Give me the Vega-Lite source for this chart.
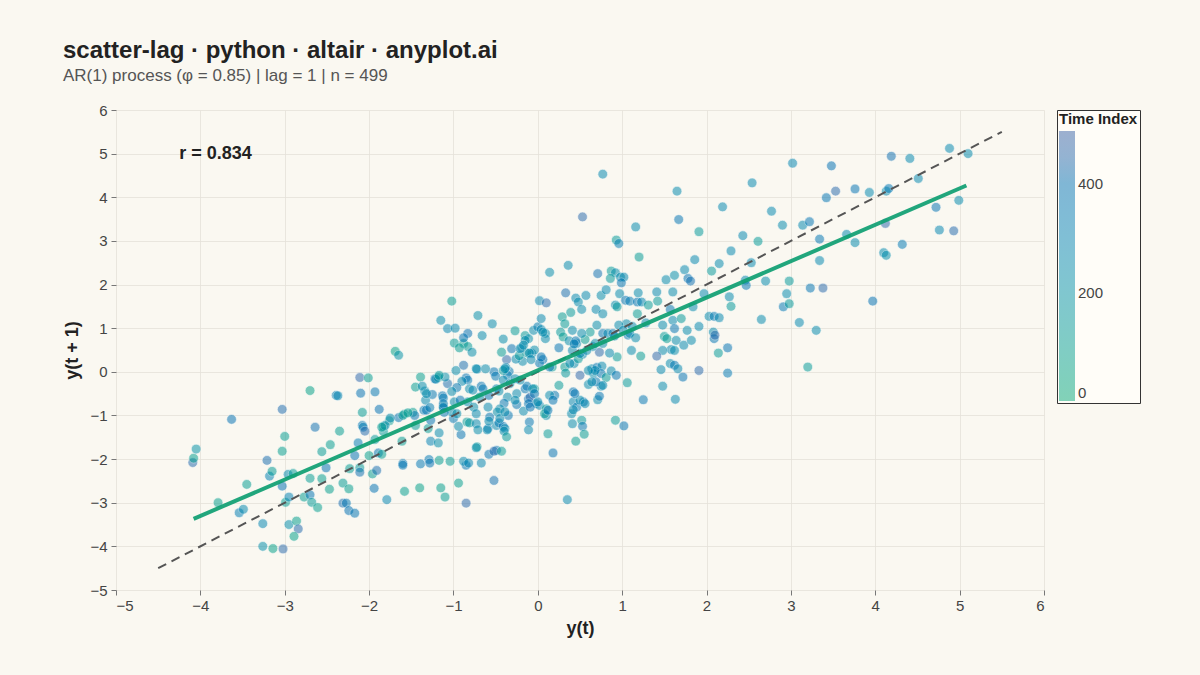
{
  "$schema": "https://vega.github.io/schema/vega-lite/v6.json",
  "width": 928,
  "height": 480,
  "autosize": {"type": "none"},
  "padding": {"left": 116, "top": 110, "right": 156, "bottom": 85},
  "background": "#FAF8F1",
  "title": {
    "text": "scatter-lag · python · altair · anyplot.ai",
    "subtitle": "AR(1) process (φ = 0.85) | lag = 1 | n = 499",
    "anchor": "start",
    "frame": "group",
    "dx": -53,
    "offset": 19,
    "font": "Liberation Sans",
    "fontSize": 24,
    "fontWeight": "bold",
    "color": "#222222",
    "subtitleFont": "Liberation Sans",
    "subtitleFontSize": 17,
    "subtitleColor": "#555555",
    "subtitlePadding": 5
  },
  "config": {
    "font": "Liberation Sans",
    "view": {"stroke": null},
    "axis": {
      "grid": true,
      "gridColor": "#E4E1D9",
      "gridWidth": 0.8,
      "domain": false,
      "tickColor": "#777777",
      "tickSize": 5,
      "labelFontSize": 15,
      "labelColor": "#444444",
      "titleFontSize": 18,
      "titleFontWeight": "bold",
      "titleColor": "#222222"
    },
    "legend": {
      "titleFontSize": 15,
      "titleFontWeight": "bold",
      "titleColor": "#222222",
      "labelFontSize": 15,
      "labelColor": "#444444"
    }
  },
  "datasets": {
    "points": [
      {"x":-4.09,"y":-2.08,"t":440},{"x":-4.08,"y":-1.98,"t":90},{"x":-4.05,"y":-1.77,"t":200},{"x":-3.63,"y":-1.09,"t":400},
      {"x":-3.79,"y":-3.0,"t":80},{"x":-3.45,"y":-2.58,"t":100},{"x":-3.54,"y":-3.23,"t":330},{"x":-3.49,"y":-3.15,"t":260},
      {"x":-3.26,"y":-4.0,"t":220},{"x":-3.14,"y":-4.05,"t":70},{"x":-3.02,"y":-4.06,"t":450},{"x":-3.26,"y":-3.48,"t":280},
      {"x":-3.21,"y":-2.03,"t":420},{"x":-3.18,"y":-2.39,"t":300},{"x":-3.15,"y":-2.28,"t":120},{"x":-3.03,"y":-0.86,"t":430},
      {"x":-3.0,"y":-1.48,"t":100},{"x":-3.03,"y":-1.82,"t":90},{"x":-3.03,"y":-2.62,"t":400},{"x":-2.99,"y":-2.99,"t":110},
      {"x":-2.96,"y":-2.35,"t":250},{"x":-2.9,"y":-2.33,"t":130},{"x":-2.95,"y":-2.87,"t":300},{"x":-2.95,"y":-3.5,"t":230},
      {"x":-2.86,"y":-3.42,"t":80},{"x":-2.84,"y":-3.6,"t":440},{"x":-2.89,"y":-3.77,"t":70},{"x":-2.77,"y":-2.87,"t":100},
      {"x":-2.7,"y":-2.82,"t":380},{"x":-2.68,"y":-2.99,"t":130},{"x":-2.61,"y":-3.11,"t":90},{"x":-2.7,"y":-0.43,"t":60},
      {"x":-2.64,"y":-1.27,"t":410},{"x":-2.7,"y":-2.44,"t":110},{"x":-2.56,"y":-2.45,"t":90},{"x":-2.56,"y":-1.83,"t":120},
      {"x":-2.46,"y":-1.67,"t":100},{"x":-2.51,"y":-2.2,"t":400},{"x":-2.47,"y":-2.69,"t":80},{"x":-2.39,"y":-0.54,"t":330},
      {"x":-2.37,"y":-0.55,"t":290},{"x":-2.35,"y":-1.36,"t":100},{"x":-2.31,"y":-2.55,"t":120},{"x":-2.24,"y":-2.68,"t":90},
      {"x":-2.31,"y":-3.01,"t":420},{"x":-2.27,"y":-3.01,"t":360},{"x":-2.24,"y":-3.18,"t":400},{"x":-2.17,"y":-3.24,"t":380},
      {"x":-2.23,"y":-2.22,"t":110},{"x":-2.17,"y":-1.92,"t":390},{"x":-2.13,"y":-1.63,"t":340},{"x":-2.11,"y":-0.13,"t":460},
      {"x":-2.01,"y":-0.14,"t":100},{"x":-2.1,"y":-0.49,"t":400},{"x":-2.08,"y":-0.93,"t":120},{"x":-2.08,"y":-1.23,"t":360},
      {"x":-2.07,"y":-1.27,"t":330},{"x":-2.05,"y":-1.36,"t":440},{"x":-2.11,"y":-2.2,"t":130},{"x":-2.11,"y":-2.3,"t":410},
      {"x":-2.0,"y":-1.92,"t":80},{"x":-1.96,"y":-2.34,"t":110},{"x":-1.91,"y":-2.26,"t":420},{"x":-1.94,"y":-2.67,"t":390},
      {"x":-1.93,"y":-0.46,"t":370},{"x":-1.93,"y":-1.55,"t":140},{"x":-1.88,"y":-0.86,"t":400},{"x":-1.89,"y":-1.86,"t":380},
      {"x":-1.85,"y":-1.89,"t":100},{"x":-1.83,"y":-1.25,"t":90},{"x":-1.83,"y":-1.37,"t":130},{"x":-1.79,"y":-2.93,"t":280},
      {"x":-1.76,"y":-1.12,"t":100},{"x":-1.69,"y":0.47,"t":60},{"x":-1.65,"y":0.38,"t":200},{"x":-1.65,"y":-1.05,"t":390},
      {"x":-1.61,"y":-1.59,"t":110},{"x":-1.6,"y":-2.1,"t":350},{"x":-1.6,"y":-2.14,"t":380},{"x":-1.58,"y":-2.74,"t":90},
      {"x":-1.58,"y":-0.97,"t":120},{"x":-1.48,"y":-0.93,"t":100},{"x":-1.46,"y":-1.0,"t":380},{"x":-1.45,"y":-1.23,"t":130},
      {"x":-1.4,"y":-2.66,"t":70},{"x":-1.39,"y":-2.11,"t":360},{"x":-1.39,"y":-0.12,"t":90},{"x":-1.45,"y":-0.35,"t":110},
      {"x":-1.34,"y":-0.44,"t":240},{"x":-1.33,"y":-0.65,"t":260},{"x":-1.35,"y":-0.88,"t":350},{"x":-1.32,"y":-0.88,"t":380},
      {"x":-1.28,"y":-0.82,"t":330},{"x":-1.3,"y":-1.3,"t":120},{"x":-1.27,"y":-1.11,"t":390},{"x":-1.29,"y":-2.01,"t":350},
      {"x":-1.28,"y":-2.09,"t":400},{"x":-1.27,"y":-1.59,"t":300},{"x":-1.25,"y":-0.52,"t":370},{"x":-1.22,"y":-0.16,"t":410},
      {"x":-1.18,"y":-0.13,"t":140},{"x":-1.17,"y":-1.4,"t":250},{"x":-1.18,"y":-1.63,"t":230},{"x":-1.17,"y":-2.03,"t":100},
      {"x":-1.15,"y":-2.66,"t":80},{"x":-1.1,"y":-2.87,"t":110},{"x":-1.13,"y":-0.55,"t":380},{"x":-1.12,"y":-0.6,"t":340},
      {"x":-1.12,"y":-0.8,"t":130},{"x":-1.07,"y":-0.27,"t":420},{"x":-1.04,"y":-2.05,"t":120},{"x":-1.0,"y":-1.07,"t":360},
      {"x":-0.99,"y":-0.69,"t":250},{"x":-0.97,"y":0.03,"t":240},{"x":-0.94,"y":-2.55,"t":90},{"x":-0.91,"y":-1.44,"t":390},
      {"x":-0.85,"y":-2.14,"t":380},{"x":-0.85,"y":-3.01,"t":450},{"x":-0.88,"y":0.65,"t":100},{"x":-0.83,"y":0.58,"t":130},
      {"x":-0.78,"y":0.45,"t":230},{"x":-0.72,"y":0.06,"t":260},{"x":-0.72,"y":-1.72,"t":120},{"x":-0.67,"y":-2.09,"t":280},
      {"x":-0.52,"y":-2.49,"t":410},{"x":-0.59,"y":-1.3,"t":370},{"x":-0.49,"y":-1.8,"t":380},{"x":-0.66,"y":0.83,"t":250},
      {"x":-1.02,"y":1.62,"t":110},{"x":-1.15,"y":1.18,"t":240},{"x":-0.71,"y":1.29,"t":220},{"x":-1.07,"y":0.99,"t":280},
      {"x":-0.98,"y":1.0,"t":260},{"x":-0.54,"y":1.1,"t":250},{"x":-0.83,"y":0.88,"t":400},{"x":-0.88,"y":0.78,"t":380},
      {"x":-0.99,"y":0.66,"t":130},{"x":-0.93,"y":0.55,"t":110},{"x":-0.41,"y":0.75,"t":240},{"x":-0.27,"y":0.94,"t":130},
      {"x":-0.15,"y":0.83,"t":140},{"x":-0.11,"y":0.76,"t":230},{"x":0.02,"y":1.63,"t":260},{"x":0.1,"y":1.58,"t":440},
      {"x":-0.05,"y":0.95,"t":250},{"x":0.0,"y":1.03,"t":330},{"x":0.04,"y":0.97,"t":270},{"x":0.09,"y":0.88,"t":230},
      {"x":0.09,"y":0.76,"t":250},{"x":0.04,"y":1.22,"t":260},{"x":0.33,"y":1.81,"t":420},{"x":0.45,"y":1.69,"t":260},
      {"x":0.39,"y":1.36,"t":140},{"x":0.29,"y":1.26,"t":120},{"x":0.32,"y":1.1,"t":130},{"x":0.41,"y":0.95,"t":250},
      {"x":0.27,"y":0.91,"t":140},{"x":0.3,"y":0.8,"t":110},{"x":0.37,"y":0.71,"t":240},{"x":0.25,"y":0.55,"t":380},
      {"x":0.46,"y":0.65,"t":260},{"x":0.41,"y":0.49,"t":270},{"x":0.32,"y":0.11,"t":120},{"x":0.33,"y":-0.03,"t":150},
      {"x":0.43,"y":0.19,"t":250},{"x":0.25,"y":-0.31,"t":130},{"x":0.2,"y":-0.54,"t":370},{"x":0.42,"y":-0.46,"t":390},
      {"x":0.42,"y":-0.69,"t":280},{"x":0.46,"y":-0.81,"t":340},{"x":0.17,"y":0.11,"t":100},{"x":-0.07,"y":0.42,"t":260},
      {"x":-0.04,"y":0.5,"t":240},{"x":-0.13,"y":0.43,"t":150},{"x":0.06,"y":0.28,"t":380},{"x":0.02,"y":0.2,"t":360},
      {"x":-0.18,"y":0.24,"t":250},{"x":-0.26,"y":0.29,"t":270},{"x":-0.22,"y":0.37,"t":140},{"x":-0.31,"y":0.53,"t":400},
      {"x":-0.19,"y":0.55,"t":230},{"x":-0.37,"y":0.28,"t":460},{"x":-0.43,"y":0.45,"t":120},{"x":-0.34,"y":0.01,"t":350},
      {"x":-0.38,"y":0.1,"t":260},{"x":-0.36,"y":-0.08,"t":330},{"x":-0.41,"y":0.03,"t":140},{"x":-0.52,"y":0.0,"t":380},
      {"x":-0.5,"y":-0.1,"t":360},{"x":-0.62,"y":0.07,"t":250},{"x":-0.73,"y":0.07,"t":240},{"x":-0.88,"y":0.15,"t":420},
      {"x":-0.85,"y":-0.14,"t":390},{"x":-0.83,"y":-0.19,"t":350},{"x":-0.9,"y":-0.22,"t":260},{"x":-0.96,"y":-0.36,"t":370},
      {"x":-1.02,"y":-0.45,"t":250},{"x":-1.1,"y":-0.12,"t":230},{"x":-1.21,"y":-0.17,"t":260},{"x":-1.17,"y":-0.08,"t":140},
      {"x":-1.37,"y":-0.33,"t":240},{"x":-1.32,"y":-0.5,"t":250},{"x":-1.12,"y":-0.73,"t":350},{"x":-0.81,"y":-0.39,"t":250},
      {"x":-0.77,"y":-0.42,"t":270},{"x":-0.67,"y":-0.33,"t":380},{"x":-0.65,"y":-0.39,"t":350},{"x":-0.69,"y":-0.58,"t":250},
      {"x":-0.58,"y":-0.54,"t":390},{"x":-0.49,"y":-0.39,"t":260},{"x":-0.46,"y":-0.44,"t":240},{"x":-0.36,"y":-0.58,"t":250},
      {"x":-0.4,"y":-0.72,"t":370},{"x":-0.25,"y":-0.5,"t":260},{"x":-0.15,"y":-0.39,"t":380},{"x":-0.13,"y":-0.33,"t":350},
      {"x":-0.11,"y":-0.62,"t":400},{"x":-0.09,"y":-0.58,"t":450},{"x":-0.04,"y":-0.39,"t":130},{"x":-0.02,"y":-0.73,"t":250},
      {"x":0.02,"y":-0.77,"t":270},{"x":0.1,"y":-0.85,"t":120},{"x":0.1,"y":-1.0,"t":240},{"x":-0.17,"y":-0.9,"t":260},
      {"x":-0.25,"y":-0.75,"t":380},{"x":-0.45,"y":-0.85,"t":250},{"x":-0.48,"y":-0.92,"t":230},{"x":-0.59,"y":-0.81,"t":260},
      {"x":-0.35,"y":-1.0,"t":370},{"x":-0.83,"y":-0.69,"t":250},{"x":-0.76,"y":-0.81,"t":240},{"x":-0.92,"y":-0.65,"t":390},
      {"x":-0.73,"y":-0.96,"t":260},{"x":-0.57,"y":-1.04,"t":380},{"x":-1.02,"y":-0.92,"t":250},{"x":-0.96,"y":-0.96,"t":230},
      {"x":-1.12,"y":-0.82,"t":380},{"x":-1.11,"y":-0.93,"t":360},{"x":-1.6,"y":-1.0,"t":120},{"x":-1.54,"y":-0.94,"t":100},
      {"x":-1.75,"y":-1.06,"t":250},{"x":-1.81,"y":-1.23,"t":250},{"x":-1.85,"y":-1.27,"t":110},{"x":-0.88,"y":-2.05,"t":260},
      {"x":-0.82,"y":-2.09,"t":280},{"x":-0.73,"y":-1.74,"t":240},{"x":-0.58,"y":-1.89,"t":380},{"x":-0.52,"y":-1.82,"t":440},
      {"x":-0.43,"y":-1.82,"t":130},{"x":-0.94,"y":-1.25,"t":250},{"x":-0.84,"y":-1.15,"t":130},{"x":-0.81,"y":-1.17,"t":150},
      {"x":-0.73,"y":-1.19,"t":260},{"x":-0.71,"y":-1.33,"t":240},{"x":-0.6,"y":-1.33,"t":250},{"x":-0.49,"y":-1.23,"t":270},
      {"x":-0.46,"y":-1.17,"t":350},{"x":-0.41,"y":-1.25,"t":380},{"x":-0.39,"y":-1.3,"t":260},{"x":-0.4,"y":-1.36,"t":240},
      {"x":-0.37,"y":-1.49,"t":140},{"x":-0.58,"y":-1.13,"t":250},{"x":-0.45,"y":-1.07,"t":260},{"x":-0.39,"y":-0.92,"t":250},
      {"x":-0.11,"y":-0.73,"t":380},{"x":-0.09,"y":-0.81,"t":400},{"x":-0.1,"y":-1.15,"t":370},{"x":-0.11,"y":-1.33,"t":260},
      {"x":0.08,"y":-0.96,"t":120},{"x":0.12,"y":-1.42,"t":130},{"x":0.18,"y":-1.86,"t":390},{"x":0.35,"y":-2.93,"t":270},
      {"x":0.12,"y":-0.88,"t":370},{"x":0.4,"y":-0.96,"t":250},{"x":0.42,"y":-0.87,"t":260},{"x":0.52,"y":-1.11,"t":140},
      {"x":0.53,"y":-1.25,"t":370},{"x":0.55,"y":-1.43,"t":120},{"x":0.45,"y":-1.59,"t":110},{"x":0.41,"y":-1.19,"t":250},
      {"x":0.54,"y":-0.69,"t":380},{"x":1.2,"y":2.63,"t":120},{"x":0.36,"y":2.44,"t":250},{"x":1.86,"y":2.57,"t":270},
      {"x":2.29,"y":2.77,"t":260},{"x":2.15,"y":2.48,"t":250},{"x":2.06,"y":2.31,"t":140},{"x":2.53,"y":2.5,"t":260},
      {"x":0.71,"y":2.25,"t":410},{"x":0.87,"y":2.31,"t":130},{"x":0.92,"y":2.27,"t":240},{"x":0.98,"y":2.17,"t":250},
      {"x":1.02,"y":2.17,"t":270},{"x":0.86,"y":2.14,"t":140},{"x":0.99,"y":2.04,"t":380},{"x":1.52,"y":2.11,"t":250},
      {"x":1.62,"y":2.21,"t":230},{"x":1.74,"y":2.34,"t":260},{"x":1.78,"y":2.14,"t":390},{"x":1.81,"y":2.08,"t":410},
      {"x":0.48,"y":1.6,"t":250},{"x":0.57,"y":1.75,"t":260},{"x":0.75,"y":1.75,"t":240},{"x":0.81,"y":1.88,"t":270},
      {"x":0.52,"y":1.43,"t":250},{"x":0.69,"y":1.43,"t":260},{"x":0.92,"y":1.53,"t":250},{"x":0.94,"y":1.49,"t":140},
      {"x":0.97,"y":1.79,"t":250},{"x":1.04,"y":1.64,"t":370},{"x":1.09,"y":1.62,"t":340},{"x":1.18,"y":1.6,"t":380},
      {"x":1.23,"y":1.6,"t":280},{"x":1.19,"y":1.81,"t":250},{"x":1.31,"y":1.53,"t":130},{"x":1.41,"y":1.83,"t":260},
      {"x":1.42,"y":1.62,"t":140},{"x":1.6,"y":1.83,"t":250},{"x":1.18,"y":1.33,"t":120},{"x":1.05,"y":1.1,"t":250},
      {"x":1.12,"y":1.04,"t":270},{"x":0.77,"y":1.33,"t":250},{"x":0.7,"y":1.07,"t":240},{"x":0.62,"y":0.91,"t":130},
      {"x":0.56,"y":0.74,"t":110},{"x":0.45,"y":0.71,"t":370},{"x":0.43,"y":0.64,"t":340},{"x":0.77,"y":0.88,"t":380},
      {"x":0.83,"y":0.88,"t":260},{"x":0.89,"y":0.88,"t":360},{"x":0.91,"y":0.82,"t":250},{"x":0.96,"y":1.07,"t":250},
      {"x":1.01,"y":0.95,"t":270},{"x":1.07,"y":0.84,"t":350},{"x":1.09,"y":0.88,"t":260},{"x":1.16,"y":0.78,"t":250},
      {"x":1.28,"y":1.12,"t":260},{"x":1.48,"y":1.07,"t":250},{"x":1.6,"y":1.18,"t":270},{"x":1.62,"y":0.99,"t":380},
      {"x":1.57,"y":1.43,"t":370},{"x":1.7,"y":1.22,"t":140},{"x":1.77,"y":0.95,"t":250},{"x":1.91,"y":1.04,"t":260},
      {"x":2.03,"y":1.27,"t":250},{"x":2.09,"y":1.27,"t":360},{"x":2.15,"y":1.24,"t":270},{"x":2.08,"y":0.91,"t":250},
      {"x":2.09,"y":0.76,"t":380},{"x":2.1,"y":0.84,"t":450},{"x":2.25,"y":0.55,"t":390},{"x":2.14,"y":0.43,"t":130},
      {"x":2.27,"y":1.72,"t":250},{"x":2.29,"y":1.5,"t":140},{"x":1.97,"y":1.79,"t":260},{"x":1.84,"y":1.49,"t":250},
      {"x":1.5,"y":0.81,"t":130},{"x":1.53,"y":0.76,"t":110},{"x":1.64,"y":0.72,"t":250},{"x":1.58,"y":0.51,"t":260},
      {"x":1.62,"y":0.49,"t":240},{"x":1.48,"y":0.49,"t":250},{"x":1.73,"y":0.61,"t":270},{"x":1.82,"y":0.72,"t":250},
      {"x":1.22,"y":0.36,"t":120},{"x":1.41,"y":0.36,"t":460},{"x":1.11,"y":0.49,"t":250},{"x":0.94,"y":0.34,"t":130},
      {"x":0.85,"y":0.43,"t":260},{"x":0.73,"y":0.45,"t":450},{"x":0.65,"y":0.58,"t":250},{"x":0.77,"y":0.65,"t":240},
      {"x":0.53,"y":0.4,"t":260},{"x":0.38,"y":0.19,"t":250},{"x":0.48,"y":0.3,"t":130},{"x":0.64,"y":0.07,"t":250},
      {"x":0.7,"y":0.1,"t":370},{"x":0.76,"y":0.13,"t":260},{"x":0.66,"y":-0.04,"t":250},{"x":0.75,"y":-0.04,"t":380},
      {"x":0.5,"y":-0.08,"t":460},{"x":0.6,"y":-0.29,"t":250},{"x":0.75,"y":-0.33,"t":260},{"x":0.81,"y":-0.13,"t":130},
      {"x":0.87,"y":0.02,"t":250},{"x":0.93,"y":-0.08,"t":380},{"x":1.06,"y":-0.25,"t":140},{"x":1.46,"y":0.05,"t":260},
      {"x":1.57,"y":0.19,"t":250},{"x":1.62,"y":0.15,"t":380},{"x":1.66,"y":0.07,"t":270},{"x":1.48,"y":-0.33,"t":250},
      {"x":1.72,"y":-0.12,"t":390},{"x":1.91,"y":0.03,"t":450},{"x":3.02,"y":4.78,"t":280},{"x":3.48,"y":4.72,"t":400},
      {"x":2.54,"y":4.33,"t":270},{"x":4.19,"y":4.94,"t":410},{"x":4.41,"y":4.89,"t":260},{"x":4.88,"y":5.12,"t":270},
      {"x":5.1,"y":5.0,"t":250},{"x":3.53,"y":4.14,"t":450},{"x":3.42,"y":3.99,"t":380},{"x":3.76,"y":4.19,"t":390},
      {"x":3.93,"y":4.11,"t":260},{"x":4.13,"y":4.14,"t":250},{"x":4.16,"y":4.2,"t":360},{"x":4.51,"y":4.43,"t":260},
      {"x":4.72,"y":3.77,"t":390},{"x":4.99,"y":3.93,"t":250},{"x":4.76,"y":3.25,"t":280},{"x":4.93,"y":3.23,"t":440},
      {"x":4.12,"y":3.4,"t":460},{"x":4.32,"y":2.92,"t":350},{"x":4.1,"y":2.73,"t":250},{"x":4.13,"y":2.67,"t":230},
      {"x":2.77,"y":3.68,"t":260},{"x":2.9,"y":3.36,"t":250},{"x":3.14,"y":3.36,"t":260},{"x":3.22,"y":3.44,"t":380},
      {"x":2.43,"y":3.12,"t":270},{"x":2.61,"y":2.99,"t":130},{"x":3.34,"y":3.04,"t":370},{"x":3.66,"y":3.15,"t":260},
      {"x":3.76,"y":2.96,"t":250},{"x":3.34,"y":2.55,"t":260},{"x":2.46,"y":2.1,"t":270},{"x":2.47,"y":1.98,"t":370},
      {"x":2.7,"y":2.08,"t":250},{"x":2.98,"y":2.08,"t":140},{"x":2.95,"y":1.79,"t":250},{"x":3.23,"y":1.92,"t":380},
      {"x":3.38,"y":1.92,"t":450},{"x":2.91,"y":1.49,"t":360},{"x":2.98,"y":1.56,"t":140},{"x":2.65,"y":1.2,"t":250},
      {"x":3.1,"y":1.13,"t":260},{"x":3.3,"y":0.95,"t":250},{"x":3.2,"y":0.11,"t":130},{"x":3.97,"y":1.62,"t":400},
      {"x":0.77,"y":4.53,"t":260},{"x":1.65,"y":4.14,"t":250},{"x":0.53,"y":3.55,"t":450},{"x":1.67,"y":3.49,"t":380},
      {"x":2.19,"y":3.78,"t":260},{"x":1.16,"y":3.32,"t":250},{"x":1.91,"y":3.21,"t":140},{"x":0.93,"y":3.02,"t":130},
      {"x":0.96,"y":2.94,"t":330},{"x":2.25,"y":-0.03,"t":350},{"x":1.25,"y":-0.64,"t":370},{"x":1.63,"y":-0.63,"t":260},
      {"x":0.71,"y":-0.64,"t":250},{"x":0.73,"y":-0.56,"t":380},{"x":0.69,"y":-0.23,"t":360},{"x":0.77,"y":-0.31,"t":260},
      {"x":0.92,"y":-1.11,"t":130},{"x":1.02,"y":-1.24,"t":380},{"x":-0.15,"y":0.72,"t":240},{"x":0.06,"y":0.91,"t":250},
      {"x":0.52,"y":0.88,"t":250},{"x":0.5,"y":0.42,"t":260},{"x":0.58,"y":0.49,"t":250},{"x":0.68,"y":0.65,"t":250},
      {"x":-0.21,"y":0.53,"t":260},{"x":-0.17,"y":0.61,"t":250},{"x":-0.1,"y":0.43,"t":250},{"x":-0.08,"y":0.28,"t":270},
      {"x":0.04,"y":0.34,"t":380},{"x":0.14,"y":0.11,"t":370},{"x":0.68,"y":0.03,"t":260},{"x":0.6,"y":0.03,"t":250},
      {"x":0.64,"y":-0.23,"t":250},{"x":0.5,"y":-0.65,"t":250},{"x":0.56,"y":-0.73,"t":260},{"x":0.44,"y":-0.5,"t":380},
      {"x":-0.39,"y":0.07,"t":250},{"x":-0.41,"y":-0.19,"t":260},{"x":-0.33,"y":-0.27,"t":250},{"x":-0.27,"y":-0.16,"t":260},
      {"x":-0.21,"y":-0.19,"t":250},{"x":-0.06,"y":-0.39,"t":250},{"x":-0.04,"y":-0.5,"t":370},{"x":-0.27,"y":-0.65,"t":250},
      {"x":0.0,"y":-0.69,"t":260},{"x":0.14,"y":-0.54,"t":250},{"x":0.18,"y":-0.65,"t":380},{"x":0.14,"y":2.28,"t":240}
    ],
    "identity": [{"x": -4.5, "y": -4.5}, {"x": 5.5, "y": 5.5}],
    "fit": [{"x": -4.08, "y": -3.37}, {"x": 5.08, "y": 4.27}],
    "note": [{"x": -4.25, "y": 5.0, "label": "r = 0.834"}]
  },
  "encoding": {
    "x": {
      "field": "x",
      "type": "quantitative",
      "title": "y(t)",
      "scale": {"domain": [-5, 6], "nice": false, "zero": false},
      "axis": {"values": [-5, -4, -3, -2, -1, 0, 1, 2, 3, 4, 5, 6], "labelPadding": 3, "titlePadding": 6}
    },
    "y": {
      "field": "y",
      "type": "quantitative",
      "title": "y(t + 1)",
      "scale": {"domain": [-5, 6], "nice": false, "zero": false},
      "axis": {"values": [-5, -4, -3, -2, -1, 0, 1, 2, 3, 4, 5, 6], "labelPadding": 4, "titlePadding": 8}
    }
  },
  "layer": [
    {
      "data": {"name": "points"},
      "mark": {"type": "circle", "size": 95, "opacity": 0.52, "stroke": "#FFFFFF", "strokeWidth": 0.6},
      "encoding": {
        "color": {
          "field": "t",
          "type": "quantitative",
          "title": "Time Index",
          "scale": {"domain": [0, 400, 498], "range": ["#05A677", "#0070B2", "#3A62A6"]},
          "legend": {
            "orient": "none",
            "legendX": 941,
            "legendY": 0,
            "direction": "vertical",
            "values": [0, 200, 400],
            "gradientLength": 270,
            "gradientThickness": 16,
            "gradientOpacity": 0.5,
            "gradientStrokeWidth": 0,
            "strokeColor": "#333333",
            "fillColor": "#FFFDF8",
            "padding": 2,
            "titlePadding": 4,
            "labelOffset": 3
          }
        }
      }
    },
    {
      "data": {"name": "identity"},
      "mark": {"type": "line", "color": "#555555", "strokeWidth": 2, "strokeDash": [9, 6]},
      "encoding": {}
    },
    {
      "data": {"name": "fit"},
      "mark": {"type": "line", "color": "#0E9E72", "strokeWidth": 4, "opacity": 0.92},
      "encoding": {}
    },
    {
      "data": {"name": "note"},
      "mark": {"type": "text", "align": "left", "baseline": "middle", "fontSize": 18, "fontWeight": "bold", "color": "#222222"},
      "encoding": {"text": {"field": "label"}}
    }
  ]
}
